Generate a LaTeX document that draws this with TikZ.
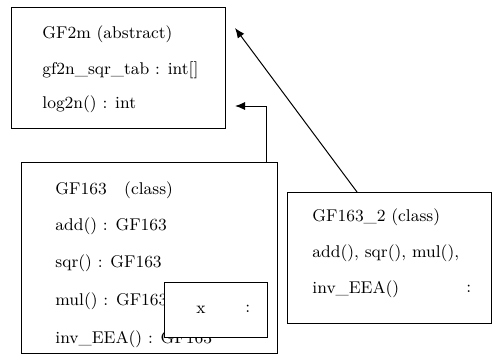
\documentclass[tikz,border=0pt]{standalone}
\usepackage{tikz}
\usetikzlibrary{arrows.meta}
\begin{document}
\begin{tikzpicture}[x=0.5pt, y=-0.5pt,
  box/.style = {draw, rectangle, anchor=north west, inner sep=0pt, line width=0.6pt},
  txt/.style = {anchor=west, inner sep=0pt, font=\fontsize{8.5}{10}\selectfont},
  arr/.style = {-{Latex[length=5pt,width=4pt]}, line width=0.5pt}]
  \useasboundingbox (0,0) rectangle (496,355);
  % abstract base
  \node[box, minimum width=107pt, minimum height=60.5pt] (gf2m) at (11,7) {};
  \node[txt] (t1) at (42,34) {GF2m (abstract)};
  \node[txt] (t2) at (42,70) {gf2n\_sqr\_tab : int[]};
  \node[txt] (t3) at (42,104) {log2n() : int};
  % first class
  \node[box, minimum width=128pt, minimum height=95.5pt] (gf163) at (21,162) {};
  \node[txt] (a1) at (55,190) {GF163\ \ \ (class)};
  \node[txt] (a2) at (55,226) {add() : GF163};
  \node[txt] (a3) at (55,263) {sqr() : GF163};
  \node[txt] (a4) at (55,301) {mul() : GF163};
  \node[txt] (a5) at (55,339) {inv\_EEA() : GF163};
  \node[box, fill=white, minimum width=51.5pt, minimum height=27.5pt] (xbox) at (164,282) {};
  \node[txt] (x1) at (196,310) {x};
  \node[txt] (x2) at (245,309) {:};
  % second class
  \node[box, minimum width=102pt, minimum height=65.5pt] (gf1632) at (287,192) {};
  \node[txt] (b1) at (312,217) {GF163\_2 (class)};
  \node[txt] (b2) at (312,253) {add(), sqr(), mul(),};
  \node[txt] (b3) at (312,289) {inv\_EEA()};
  \node[txt] (b4) at (466,289) {:};
  % arrows
  \coordinate (s1) at (357,192);
  \coordinate (e1) at (235,28);
  \coordinate (s2) at (266,162);
  \coordinate (e2) at (235,106);
  \draw[arr] (s1) -- (e1);
  \draw[arr] (s2) |- (e2);
\end{tikzpicture}
\end{document}
